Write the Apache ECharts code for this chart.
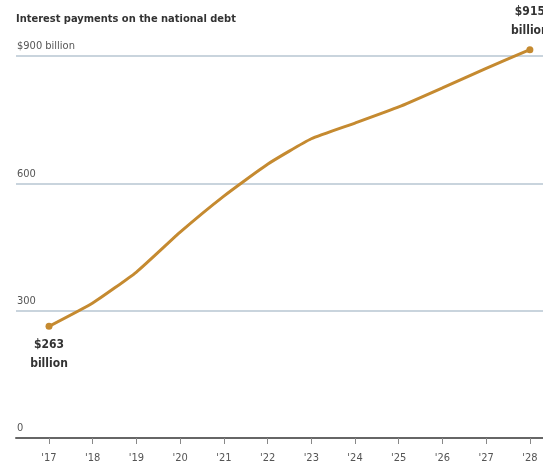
<!DOCTYPE html>
<html>
<head>
<meta charset="utf-8">
<script src="https://cdn.jsdelivr.net/npm/echarts@6/dist/echarts.min.js"></script>
<style>
  html, body { margin: 0; padding: 0; background: #fff; }
  #chart { width: 543px; height: 472px; }
</style>
</head>
<body>
<div id="chart"></div>
<script>
// fiscal years and projected interest payments, billions of dollars
const years = [2017, 2018, 2019, 2020, 2021, 2022, 2023, 2024, 2025, 2026, 2027, 2028];
const payments = [263, 318, 391, 485, 570, 645, 705, 742, 780, 825, 871, 915];
const yTicks = [0, 300, 600, 900];

const FONT = '"DejaVu Sans Condensed", "Liberation Sans Narrow", "Liberation Sans", sans-serif';
const GOLD = '#c58a30';

let chart = echarts.init(document.getElementById('chart'));

let data = [];
for (let i = 0; i < years.length; i++) {
  let item = { value: [years[i], payments[i]] };
  if (i === 0 || i === years.length - 1) {
    item.symbolSize = 7;
    item.label = {
      show: true,
      position: i === 0 ? 'bottom' : 'top',
      distance: 6,
      formatter: '$' + payments[i] + '\nbillion',
      fontFamily: FONT,
      fontWeight: 'bold',
      fontSize: 12,
      lineHeight: 19,
      color: '#333'
    };
  }
  data.push(item);
}

chart.setOption({
  animation: false,
  title: {
    text: 'Interest payments on the national debt',
    left: 11,
    top: 9,
    textStyle: { fontFamily: FONT, fontWeight: 'bold', fontSize: 11, color: '#333' }
  },
  grid: { left: 16, right: 0, top: 56, bottom: 34, containLabel: false },
  xAxis: {
    type: 'value',
    min: 2016.245,
    max: 2028.3,
    axisLine: { show: true, lineStyle: { color: '#666', width: 2 } },
    axisTick: { show: true, customValues: years, length: 6, lineStyle: { color: '#888' } },
    axisLabel: {
      customValues: years,
      margin: 15,
      fontFamily: FONT,
      fontSize: 11,
      color: '#555',
      formatter: v => "'" + String(v).slice(2)
    },
    splitLine: { show: false }
  },
  yAxis: {
    type: 'value',
    min: 0,
    max: 900,
    interval: 300,
    axisLine: { show: false },
    axisTick: { show: false },
    axisLabel: {
      inside: true,
      margin: 1,
      verticalAlign: 'bottom',
      padding: [0, 0, 4, 0],
      fontFamily: FONT,
      fontSize: 11,
      color: '#555',
      formatter: v => v === yTicks[yTicks.length - 1] ? '$' + v + ' billion' : String(v)
    },
    splitLine: { show: true, lineStyle: { color: '#c9d4dd', width: 2 } }
  },
  series: [{
    type: 'line',
    data: data,
    clip: false,
    smooth: 0.15,
    symbol: 'circle',
    symbolSize: 0,
    showAllSymbol: true,
    itemStyle: { color: GOLD },
    lineStyle: { color: GOLD, width: 3 },
    z: 5
  }]
});
</script>
</body>
</html>
